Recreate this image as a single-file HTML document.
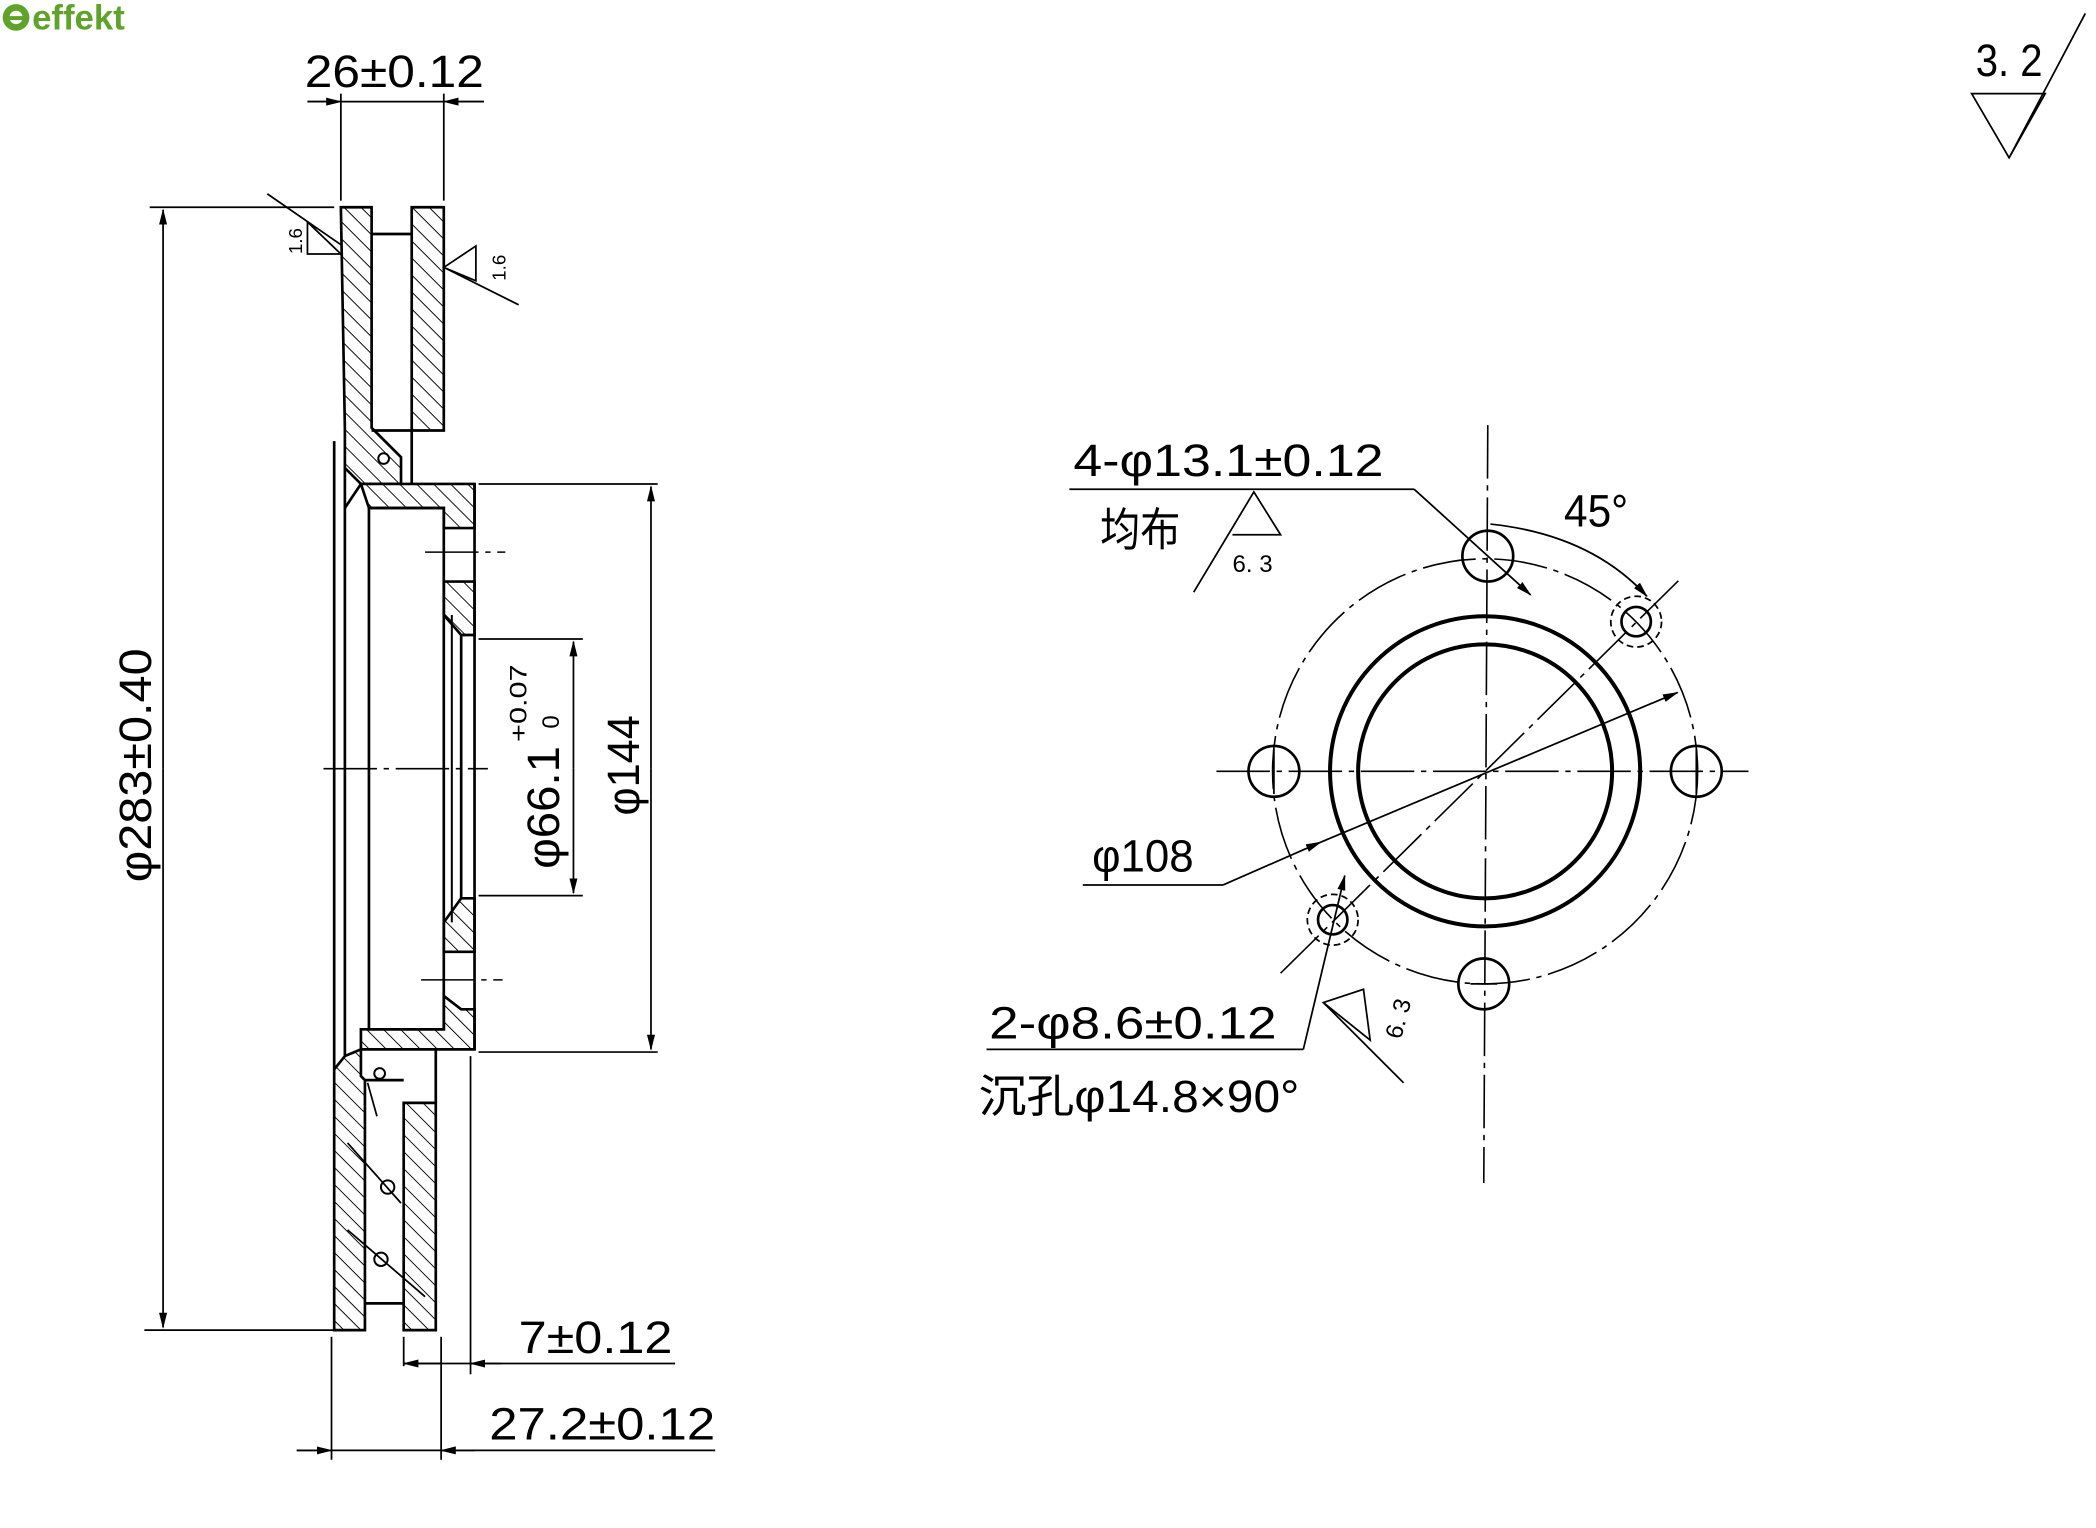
<!DOCTYPE html>
<html><head><meta charset="utf-8"><style>
html,body{margin:0;padding:0;background:#fff;}
svg{display:block;}
text{font-family:"Liberation Sans","Noto Sans CJK SC",sans-serif;fill:#000;}
</style></head><body>
<svg width="2096" height="1528" viewBox="0 0 1568 1143" xmlns="http://www.w3.org/2000/svg">
<defs>
<pattern id="h" width="9" height="9" patternUnits="userSpaceOnUse" patternTransform="rotate(-45)">
<rect width="9" height="9" fill="#fff"/><line x1="0" y1="0" x2="0" y2="9" stroke="#000" stroke-width="1.4"/></pattern>
<marker id="a" markerWidth="12" markerHeight="8" refX="11" refY="4" orient="auto" markerUnits="userSpaceOnUse"><path d="M0,1 L12,4 L0,7 Z" fill="#000"/></marker>
</defs>
<circle cx="12" cy="13" r="10" fill="#5fa32b"/><circle cx="12" cy="13" r="5" fill="#fff"/><rect x="7" y="12" width="12" height="3" fill="#5fa32b"/>
<text x="24" y="22" font-size="26" font-weight="bold" style="fill:#5fa32b">effekt</text>

<g stroke="#000" fill="none" stroke-width="2">
<path d="M255,155 H278 V320 L300,342 V362 H270 L258,350 V320 Z" fill="url(#h)"/>
<path d="M308,155 H332 V322 H308 Z" fill="url(#h)"/>
<line x1="278" y1="175" x2="308" y2="175"/>
<line x1="308" y1="322" x2="308" y2="362"/>
<line x1="278" y1="322" x2="308" y2="322"/>
<path d="M270,362 H355 V395 H332 V380 H276 Z" fill="url(#h)"/>
<path d="M332,435 H355 V475 H345 L332,460 Z" fill="url(#h)"/>
<path d="M332,690 L345,672 H355 V712 H332 Z" fill="url(#h)"/>
<path d="M332,745 L345,755 H355 V785 H270 V770 H332 Z" fill="url(#h)"/>
<rect x="276" y="380" width="56" height="390"/>
<line x1="355" y1="362" x2="355" y2="785"/>
<line x1="345" y1="475" x2="345" y2="672"/>
<line x1="338" y1="460" x2="338" y2="690" stroke-width="1.5"/>
<line x1="250" y1="330" x2="250" y2="800"/>
<line x1="258" y1="350" x2="258" y2="790"/>
<line x1="270" y1="362" x2="258" y2="380"/>
<path d="M270,785 V805 L273,808 V995 H250 V800 L258,790 Z" fill="url(#h)"/>
<path d="M302,825 H326 V995 H302 Z" fill="url(#h)"/>
<line x1="273" y1="975" x2="302" y2="975"/>
<line x1="326" y1="785" x2="326" y2="825"/>
<line x1="273" y1="808" x2="302" y2="808"/>
<circle cx="287" cy="343" r="4" stroke-width="1.5"/>
<circle cx="284" cy="803" r="4" stroke-width="1.5"/>
<circle cx="290" cy="888" r="5" stroke-width="1.5"/>
<circle cx="285" cy="942" r="5" stroke-width="1.5"/>
<path d="M260,855 L300,900 M260,920 L318,970 M275,810 L282,835" stroke-width="1.3"/>
</g>
<g stroke="#000" stroke-width="1.2" stroke-dasharray="40,5,4,5" fill="none">
<line x1="242" y1="575" x2="365" y2="575"/>
<line x1="318" y1="413" x2="378" y2="413"/>
<line x1="315" y1="733" x2="376" y2="733"/>
</g>
<g stroke="#000" stroke-width="1.3" fill="none">
<line x1="255" y1="150" x2="255" y2="70"/><line x1="332" y1="150" x2="332" y2="70"/>
<line x1="230" y1="76" x2="362" y2="76"/>
<line x1="230" y1="76" x2="255" y2="76" marker-end="url(#a)"/><line x1="362" y1="76" x2="332" y2="76" marker-end="url(#a)"/>
<line x1="250" y1="155" x2="112" y2="155"/><line x1="250" y1="995" x2="108" y2="995"/>
<line x1="122" y1="575" x2="122" y2="157" marker-end="url(#a)"/><line x1="122" y1="575" x2="122" y2="993" marker-end="url(#a)"/>
<line x1="358" y1="362" x2="492" y2="362"/><line x1="358" y1="787" x2="492" y2="787"/>
<line x1="487" y1="575" x2="487" y2="364" marker-end="url(#a)"/><line x1="487" y1="575" x2="487" y2="785" marker-end="url(#a)"/>
<line x1="358" y1="478" x2="436" y2="478"/><line x1="358" y1="670" x2="436" y2="670"/>
<line x1="429" y1="575" x2="429" y2="480" marker-end="url(#a)"/><line x1="429" y1="575" x2="429" y2="668" marker-end="url(#a)"/>
<line x1="302" y1="1000" x2="302" y2="1022"/><line x1="352" y1="790" x2="352" y2="1028"/>
<line x1="302" y1="1020" x2="505" y2="1020"/>
<line x1="330" y1="1020" x2="302" y2="1020" marker-end="url(#a)"/><line x1="375" y1="1020" x2="352" y2="1020" marker-end="url(#a)"/>
<line x1="248" y1="1000" x2="248" y2="1092"/><line x1="330" y1="1000" x2="330" y2="1092"/>
<line x1="222" y1="1085" x2="535" y2="1085"/>
<line x1="222" y1="1085" x2="248" y2="1085" marker-end="url(#a)"/><line x1="355" y1="1085" x2="330" y2="1085" marker-end="url(#a)"/>
<path d="M200,145 L255,183 M230,166 V190 H255 Z"/>
<path d="M332,200 L388,228 M356,184 V210 L332,200 Z"/>
<path d="M1475,70 H1530 L1503,118 Z M1503,118 L1560,10"/>
</g>
<g font-size="34">
<text x="228" y="65" textLength="134" lengthAdjust="spacingAndGlyphs">26±0.12</text>
<text x="388" y="1012" textLength="115" lengthAdjust="spacingAndGlyphs">7±0.12</text>
<text x="366" y="1077" textLength="169" lengthAdjust="spacingAndGlyphs">27.2±0.12</text>
<text x="1478" y="57" textLength="50" lengthAdjust="spacingAndGlyphs">3. 2</text>
</g>
<text font-size="14" transform="translate(226,190) rotate(-90)">1.6</text>
<text font-size="14" transform="translate(378,210) rotate(-90)">1.6</text>
<text font-size="34" transform="translate(113,660) rotate(-90)" textLength="175" lengthAdjust="spacingAndGlyphs">φ283±0.40</text>
<text font-size="34" transform="translate(478,610) rotate(-90)" textLength="75" lengthAdjust="spacingAndGlyphs">φ144</text>
<text font-size="34" transform="translate(418,650) rotate(-90)" textLength="92" lengthAdjust="spacingAndGlyphs">φ66.1</text>
<text font-size="18" transform="translate(394,555) rotate(-90)" textLength="58" lengthAdjust="spacingAndGlyphs">+0.07</text>
<text font-size="18" transform="translate(418,545) rotate(-90)">0</text>

<g stroke="#000" stroke-width="1.2" stroke-dasharray="40,5,4,5" fill="none">
<line x1="910" y1="577" x2="1308" y2="577"/>
<line x1="1113" y1="318" x2="1110" y2="885"/>
<circle cx="1111" cy="577" r="159"/>
<line x1="958" y1="728" x2="1258" y2="432"/>
</g>
<g stroke="#000" stroke-width="3" fill="none">
<circle cx="1111" cy="577" r="95"/>
<circle cx="1111" cy="577" r="116"/>
</g>
<g stroke="#000" stroke-width="2" fill="none">
<circle cx="953" cy="577" r="19"/><circle cx="1269" cy="577" r="19"/>
<circle cx="1113" cy="416" r="19"/><circle cx="1110" cy="736" r="19"/>
<circle cx="1224" cy="465" r="11"/><circle cx="997" cy="688" r="11"/>
<circle cx="1224" cy="465" r="19" stroke-dasharray="5,3" stroke-width="1.3"/>
<circle cx="997" cy="688" r="19" stroke-dasharray="5,3" stroke-width="1.3"/>
</g>
<g stroke="#000" stroke-width="1.3" fill="none">
<line x1="953" y1="560" x2="953" y2="594" /><line x1="1269" y1="560" x2="1269" y2="594"/>
<line x1="1100" y1="736" x2="1120" y2="736"/>
<line x1="800" y1="366" x2="1058" y2="366"/><line x1="1058" y1="366" x2="1145" y2="445" marker-end="url(#a)"/>
<path d="M893,443 L938,368 L958,400 H922"/>
<path d="M1115,392 Q1190,400 1232,446" marker-end="url(#a)"/>
<line x1="810" y1="662" x2="915" y2="662"/><line x1="915" y1="662" x2="988" y2="630" marker-end="url(#a)"/>
<line x1="988" y1="630" x2="1255" y2="518" marker-end="url(#a)"/>
<line x1="738" y1="785" x2="975" y2="785"/><line x1="975" y1="785" x2="1006" y2="655" marker-end="url(#a)"/>
<path d="M990,750 L1020,740 L1025,778 Z M990,750 L1050,810"/>
</g>
<g font-size="34">
<text x="803" y="356" textLength="232" lengthAdjust="spacingAndGlyphs">4-φ13.1±0.12</text>
<text x="1170" y="394" textLength="48" lengthAdjust="spacingAndGlyphs">45°</text>
<text x="817" y="652" textLength="76" lengthAdjust="spacingAndGlyphs">φ108</text>
<text x="740" y="777" textLength="215" lengthAdjust="spacingAndGlyphs">2-φ8.6±0.12</text>
<text x="732" y="832" textLength="240" lengthAdjust="spacingAndGlyphs">沉孔φ14.8×90°</text>
<text x="823" y="408" textLength="60" lengthAdjust="spacingAndGlyphs">均布</text>
</g>
<text x="922" y="428" font-size="18">6. 3</text>
<text font-size="18" transform="translate(1048,778) rotate(-75)">6. 3</text>
</svg>
</body></html>
